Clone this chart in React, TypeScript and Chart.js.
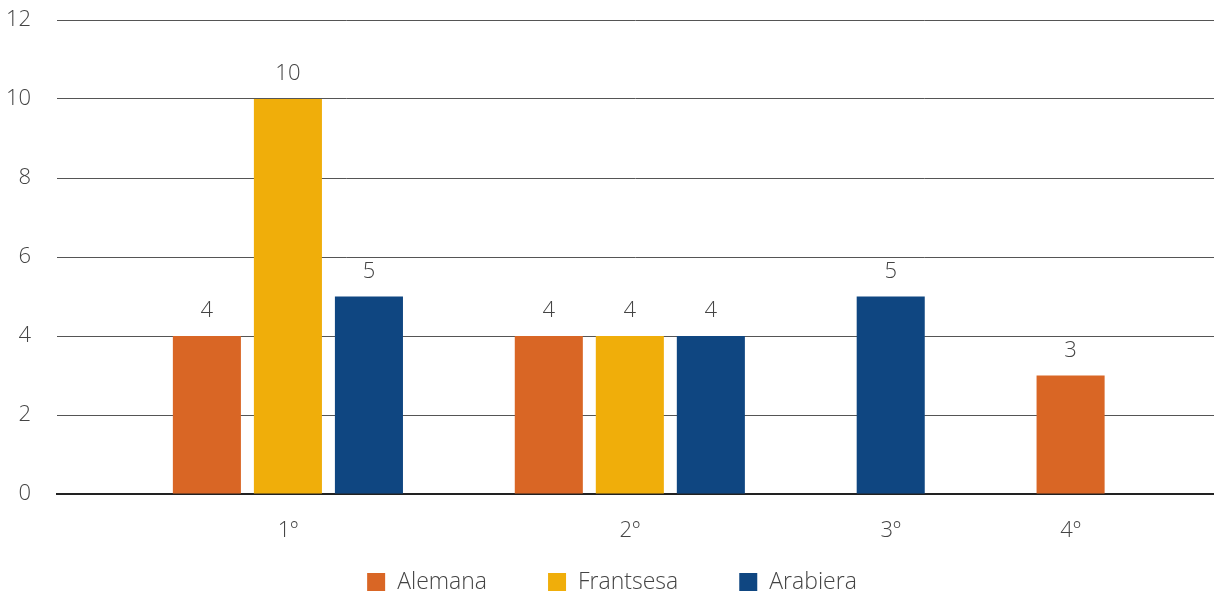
import React, { useEffect, useRef } from "react";
import { Chart, registerables } from "chart.js";

Chart.register(...registerables);

const categories = ["1º", "2º", "3º", "4º"];
const seriesNames = ["Alemana", "Frantsesa", "Arabiera"];
const alemana: (number | null)[] = [4, 4, null, 3];
const frantsesa: (number | null)[] = [10, 4, null, null];
const arabiera: (number | null)[] = [5, 4, 5, null];
const seriesColors = ["#D96625", "#F0AE0A", "#0F4681"];
const yTicks = [0, 2, 4, 6, 8, 10, 12];

const FONT = "'Open Sans', 'DejaVu Sans', sans-serif";
const TEXT = "#444444";

// layout (in bar-slot units): gaps around the groups of non-empty bars
const START_GAP = 1.35;
const INNER_GAP = 1.22;
const END_GAP = 1.27;

function buildLayout(series: (number | null)[][]) {
  const points: { x: number; y: number }[][] = series.map(() => []);
  const centers: number[] = [];
  let cursor = START_GAP;
  categories.forEach((_, ci) => {
    const start = cursor;
    series.forEach((s, si) => {
      const v = s[ci];
      if (v !== null && v !== undefined) {
        points[si].push({ x: cursor + 0.5, y: v });
        cursor += 1;
      }
    });
    centers.push((start + cursor) / 2);
    cursor += ci < categories.length - 1 ? INNER_GAP : END_GAP;
  });
  return { points, centers, total: cursor };
}

const valueLabels = {
  id: "valueLabels",
  afterDatasetsDraw(chart: any) {
    const ctx = chart.ctx;
    ctx.save();
    ctx.font = `300 22px ${FONT}`;
    ctx.fillStyle = TEXT;
    ctx.textAlign = "center";
    ctx.textBaseline = "alphabetic";
    chart.data.datasets.forEach((ds: any, di: number) => {
      const meta = chart.getDatasetMeta(di);
      meta.data.forEach((bar: any, i: number) => {
        const v = ds.data[i].y;
        ctx.fillText(String(v), bar.x, bar.y - 19);
      });
    });
    ctx.restore();
  },
};

const LEGEND_BOX = 18;
const LEGEND_GAP = 12;
const LEGEND_PAD = 61;
const LEGEND_FONT = 23;

const bottomLegend = {
  id: "bottomLegend",
  afterDraw(chart: any) {
    const ctx = chart.ctx;
    ctx.save();
    ctx.font = `300 ${LEGEND_FONT}px ${FONT}`;
    const widths = seriesNames.map((n) => ctx.measureText(n).width);
    const total =
      widths.reduce((a, w) => a + LEGEND_BOX + LEGEND_GAP + w, 0) +
      LEGEND_PAD * (seriesNames.length - 1);
    let x = chart.width / 2 + 5 - total / 2;
    const boxTop = chart.height - 20;
    seriesNames.forEach((n, i) => {
      ctx.fillStyle = seriesColors[i];
      ctx.fillRect(x, boxTop, LEGEND_BOX, LEGEND_BOX);
      ctx.fillStyle = TEXT;
      ctx.textAlign = "left";
      ctx.textBaseline = "middle";
      ctx.fillText(n, x + LEGEND_BOX + LEGEND_GAP, boxTop + LEGEND_BOX / 2);
      x += LEGEND_BOX + LEGEND_GAP + widths[i] + LEGEND_PAD;
    });
    ctx.restore();
  },
};

export default function App() {
  const ref = useRef<HTMLCanvasElement>(null);
  useEffect(() => {
    document.body.style.margin = "0";
    const { points, centers, total } = buildLayout([alemana, frantsesa, arabiera]);
    const chart = new Chart(ref.current as HTMLCanvasElement, {
      type: "bar",
      data: {
        datasets: points.map((p, i) => ({
          label: seriesNames[i],
          data: p,
          backgroundColor: seriesColors[i],
          borderWidth: 0,
          categoryPercentage: 1,
          barPercentage: 0.84,
          grouped: false,
        })) as any,
      },
      options: {
        animation: false,
        responsive: true,
        maintainAspectRatio: false,
        layout: { padding: { top: 20, right: 0, left: 0, bottom: 53 } },
        scales: {
          x: {
            type: "linear",
            min: 0,
            max: total,
            offset: false,
            grid: { display: false },
            border: { display: true, color: "#222222", width: 2 },
            afterBuildTicks: (scale: any) => {
              scale.ticks = centers.map((c) => ({ value: c }));
            },
            afterFit: (scale: any) => {
              scale.height = 46;
              scale.paddingLeft = 0;
              scale.paddingRight = 0;
            },
            ticks: {
              padding: 16,
              color: TEXT,
              font: { family: FONT, size: 22, weight: "300" },
              callback: (_v: any, i: number) => categories[i],
            },
          },
          y: {
            min: 0,
            max: 12,
            afterBuildTicks: (scale: any) => {
              scale.ticks = yTicks.map((v) => ({ value: v }));
            },
            afterFit: (scale: any) => {
              scale.width = 57;
              scale.paddingTop = 0;
              scale.paddingBottom = 0;
            },
            grid: { color: "#555555", lineWidth: 1, drawTicks: false },
            border: { display: false },
            ticks: {
              padding: 26,
              color: TEXT,
              font: { family: FONT, size: 22, weight: "300" },
            },
          },
        },
        plugins: {
          legend: { display: false },
          tooltip: { enabled: false },
        },
      },
      plugins: [valueLabels, bottomLegend],
    } as any);
    return () => chart.destroy();
  }, []);
  return (
    <div style={{ width: 1214, height: 593, position: "relative" }}>
      <canvas ref={ref} />
    </div>
  );
}
